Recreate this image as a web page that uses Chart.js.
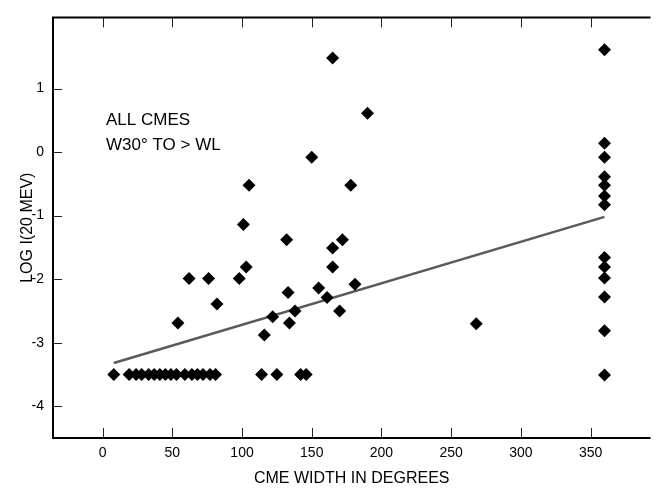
<!DOCTYPE html>
<html>
<head>
<meta charset="utf-8">
<script src="https://cdn.jsdelivr.net/npm/chart.js@4/dist/chart.umd.min.js"></script>
<style>
  html, body { margin: 0; padding: 0; background: #fff; }
</style>
</head>
<body>
<canvas id="chart" width="657" height="492"></canvas>
<script>
/* ── Data ── */
const cmeWidth = [
  8, 19, 24, 28, 33, 37, 41, 45, 49, 53, 59, 64, 68, 72, 77, 81, 114, 125, 142, 146,
  165, 190, 150, 105, 178, 101, 132, 172, 165, 103, 165, 62, 76, 98, 181, 155, 133,
  161, 82, 138, 170, 122, 54, 134, 116, 268,
  360, 360, 360, 360, 360, 360, 360, 360, 360, 360, 360, 360, 360
];
const logI = [
  -3.5, -3.5, -3.5, -3.5, -3.5, -3.5, -3.5, -3.5, -3.5, -3.5, -3.5, -3.5, -3.5, -3.5, -3.5, -3.5, -3.5, -3.5, -3.5, -3.5,
  1.48, 0.61, -0.08, -0.52, -0.52, -1.14, -1.38, -1.38, -1.51, -1.81, -1.81, -1.99, -1.99, -1.99, -2.08, -2.14, -2.21,
  -2.29, -2.39, -2.5, -2.5, -2.59, -2.69, -2.69, -2.88, -2.7,
  1.61, 0.14, -0.08, -0.39, -0.52, -0.69, -0.83, -1.66, -1.81, -1.98, -2.28, -2.81, -3.51
];
const fitWidth = [8, 360];
const fitLogI  = [-3.32, -1.02];

const xTicks = [0, 50, 100, 150, 200, 250, 300, 350];
const yTicks = [-4, -3, -2, -1, 0, 1];
const notes  = ['ALL CMES', 'W30\u00B0 TO > WL'];

const FONT = '"Liberation Sans", Arial, sans-serif';

/* ── Marco, marcas interiores y rótulo ── */
const framePlugin = {
  id: 'frame',
  afterDatasetsDraw(chart) {
    const { ctx, chartArea: a, scales: { x, y } } = chart;
    ctx.save();
    ctx.strokeStyle = '#222';
    ctx.lineWidth = 1;
    ctx.beginPath();
    xTicks.forEach(v => {
      const px = Math.round(x.getPixelForValue(v)) + 0.5;
      ctx.moveTo(px, a.bottom); ctx.lineTo(px, a.bottom - 10);
      ctx.moveTo(px, a.top);    ctx.lineTo(px, a.top + 10);
    });
    yTicks.forEach(v => {
      const py = Math.round(y.getPixelForValue(v)) + 0.5;
      ctx.moveTo(a.left, py); ctx.lineTo(a.left + 9, py);
    });
    ctx.stroke();

    ctx.strokeStyle = '#000';
    ctx.lineWidth = 2;
    ctx.beginPath();
    ctx.moveTo(a.right, a.top);
    ctx.lineTo(a.left, a.top);
    ctx.lineTo(a.left, a.bottom);
    ctx.lineTo(a.right, a.bottom);
    ctx.stroke();

    ctx.fillStyle = '#000';
    ctx.font = '17px ' + FONT;
    ctx.textBaseline = 'alphabetic';
    notes.forEach((t, i) => ctx.fillText(t, a.left + 53, 125 + i * 25));
    ctx.restore();
  }
};

new Chart(document.getElementById('chart'), {
  type: 'scatter',
  data: {
    datasets: [
      {
        label: 'CMEs',
        data: cmeWidth.map((w, i) => ({ x: w, y: logI[i] })),
        pointStyle: 'rectRot',
        pointRadius: 6.5,
        pointHoverRadius: 6.5,
        backgroundColor: '#000',
        borderColor: '#000',
        borderWidth: 0,
        order: 1,
      },
      {
        label: 'Fit',
        type: 'line',
        data: fitWidth.map((w, i) => ({ x: w, y: fitLogI[i] })),
        borderColor: '#5a5a5a',
        borderWidth: 2.5,
        pointRadius: 0,
        fill: false,
        order: 2,
      },
    ],
  },
  options: {
    responsive: false,
    animation: false,
    events: [],
    layout: { padding: { top: 10, right: 1, left: 0, bottom: 0 } },
    plugins: { legend: { display: false }, tooltip: { enabled: false } },
    scales: {
      x: {
        type: 'linear',
        min: -35.6,
        max: 393,
        grid: { display: false, drawTicks: false },
        border: { display: false },
        afterBuildTicks: s => { s.ticks = xTicks.map(v => ({ value: v })); },
        afterFit: s => { s.height = 54; },
        ticks: { color: '#000', padding: 7, font: { family: FONT, size: 14 }, maxRotation: 0 },
        title: {
          display: true, text: 'CME WIDTH IN DEGREES', color: '#000',
          font: { family: FONT, size: 16 }, padding: { top: 0, bottom: 4 },
        },
      },
      y: {
        type: 'linear',
        min: -4.5,
        max: 2.12,
        grid: { display: false, drawTicks: false },
        border: { display: false },
        afterBuildTicks: s => { s.ticks = yTicks.map(v => ({ value: v })); },
        afterFit: s => { s.width = 53; },
        ticks: { color: '#000', padding: 9, font: { family: FONT, size: 14 } },
        title: {
          display: true, text: 'LOG I(20 MEV)', color: '#000',
          font: { family: FONT, size: 16 }, padding: { top: 18, bottom: 0 },
        },
      },
    },
  },
  plugins: [framePlugin],
});
</script>
</body>
</html>
